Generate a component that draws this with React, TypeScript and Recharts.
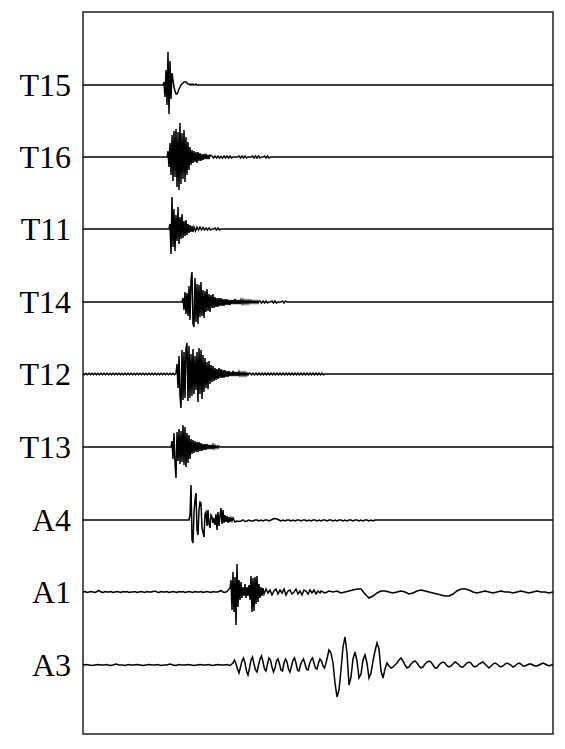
import React from 'react';
import { LineChart, Line, XAxis, YAxis, ReferenceArea } from 'recharts';

// Station labels, top to bottom
const STATIONS = ['T15', 'T16', 'T11', 'T14', 'T12', 'T13', 'A4', 'A1', 'A3'];
// Vertical offset (trace baseline) of each station, in amplitude counts
const OFFSETS = [649, 577, 505, 432, 360, 287, 214, 142, 69];
const T_MAX = 470;

type Seg = { start: number; step: number; values: number[] };

const T15: Seg[] = [
  { start: 81, step: 1, values: [3, -12, 15, -20, 33, -29, 24, -14, 12, 5, -2, -6, -9, -9, -7, -4, -2, 0, 1, 2, 3, 3, 3, 2, 1, 1, 0, 1, 0, 1, 0, 0, 1, 0] },
];

const T16: Seg[] = [
  { start: 85, step: 1, values: [6, -10, 14, -18, 22, -24, 26, -20, 28, -30, 25, -33, 34, -27, 24, -22, 27, -25, 20, -18, 15, -13, 10] },
  { start: 108, step: 1, values: [-8, 7, -6, 6, -5, 5, -6, 5, -4, 4, -4, 3, -3, 3, -2, 3, -2, 2, -2, 2] },
  { start: 129, step: 1.5, values: [1, -1, 1, -1, 1, -1, 0.5, -1, 1, -1, 1, -1, 1, -1, 0, 0, 0, 0, 1, -1, 1, -1, 1, -1, 0, 0, 0, 1, -1, 1, -1, 1, -1, 0, 0, 1, -1, 1, -1, 0] },
];

const T11: Seg[] = [
  { start: 87, step: 1, values: [5, -25, 32, -18, 20, -22, 14, -12, 22, -15, 12, -10, 15, -9, 8, -7, 9, -6, 5, -4, 4, -3, 3, -3] },
  { start: 111, step: 1.5, values: [2, -2, 2, -1, 2, -1, 1.5, -1, 1, -1, 1, -1, 0, 0, 1, -1, 1, -1, 0] },
];

const T14: Seg[] = [
  { start: 100, step: 1, values: [4, -8, 10, -12, 9, -14, 16, -18, 22, 30, -22, -25, 24, -20, 18, -22, 17, -15, 20, -14, 12, -16, 11, -10, 13, -9, 8, -10, 7, -6, 8, -6, 5] },
  { start: 133, step: 1, values: [-5, 4, -5, 4, -4, 4, -4, 3, -4, 3, -3, 3, -3, 2, -3, 2, -2, 2, -2, 3, -2, 2, -2, 2, -2, 2, -1.5, 2, -1.5, 1.5, -1.5, 1.5, -1.5, 1.5, -1, 1.5, -1, 1, -1, 1, -1, 1, -1, 1] },
  { start: 177, step: 1.5, values: [1, -1, 1, -1, 1, -1, 0, 0, 1, -1, 1, -1, 0, 0, 0, 1, -1, 1, 0, 0, 0] },
];

const T12: Seg[] = [
  { start: 0, step: 1.5, values: [0.7, -0.7, 0.7, -0.7, 0.7, -0.7, 0.7, -0.7, 0.7, -0.7, 0.7, -0.7, 0.7, -0.7, 0.7, -0.7, 0.7, -0.7, 0.7, -0.7, 0.7, -0.7, 0.7, -0.7, 0.7, -0.7, 0.7, -0.7, 0.7, -0.7, 0.7, -0.7, 0.7, -0.7, 0.7, -0.7, 0.7, -0.7, 0.7, -0.7, 0.7, -0.7, 0.7, -0.7, 0.7, -0.7, 0.7, -0.7, 0.7, -0.7, 0.7, -0.7, 0.7, -0.7, 0.7, -0.7, 0.7, -0.7, 0.7, -0.7, 0.7, -0.7, 0.7] },
  { start: 94, step: 1, values: [10, -14, 18, -22, -34, 24, -26, 22, -24, 26, 31, -27, 28, -24, 20, -22, 25, -20, 18, -16, 22, -28, 26, -20, 24, -25, 19, -18, 16, -14, 12, -15, 13, -10, 9, -8, 8, -7] },
  { start: 132, step: 1, values: [6, -6, 5, -5, 6, -4, 5, -4, 4, -4, 4, -3, 3, -3, 3, -2, 2, -2, 3, -2, 2, -2, 2, -2, 2, -1.5, 1.5, -1.5, 1.5, -1.5, 1.5, -1.5, 1, -1, 1] },
  { start: 167, step: 1.5, values: [0.8, -0.8, 0.8, -0.8, 0.8, -0.8, 0.8, -0.8, 0.8, -0.8, 0.8, -0.8, 0.8, -0.8, 0.8, -0.8, 0.8, -0.8, 0.8, -0.8, 0.8, -0.8, 0.8, -0.8, 0.8, -0.8, 0.8, -0.8, 0.8, -0.8, 0.8, -0.8, 0.8, -0.8, 0.8, -0.8, 0.8, -0.8, 0.8, -0.8, 0.8, -0.8, 0.8, -0.8, 0.8, -0.8, 0.8, -0.8, 0.8, -0.8, 0] },
];

const T13: Seg[] = [
  { start: 89, step: 1, values: [6, -12, 14, -16, -31, 15, -14, 18, -17, 16, -15, 22, -18, 20, -20, 14, -16, 12, -12] },
  { start: 108, step: 1, values: [8, -7, 7, -6, 6, -5, 5, -5, 5, -4, 4, -4, 3, -3, 3, -3, 3, -2, 2, -2, 2, -2, 2, -1.5, 1.5, -1, 1, -1, 1, 0] },
];

const A4: Seg[] = [
  { start: 107, step: 1, values: [5, 35, -20, -23, 8, 20, 27, -10, -15, 10, 18, 17, -8, -12, -17, 6, 8, -6, 10, -4, -8, 5, 3, -3, 2, -5, 6, -10, 8, -6, 4, 12, -4, 10, -3, 5, -2, 4, -3, 3, -2, 2, -1, 2] },
  { start: 152, step: 2, values: [-2, -1, -1.5, -1, 0, -1.5, -1, 0, -1, -1, 0, 0, -1, 0, -1, 0, 0, -1, 0, 1, 1.5, 1, 0, -1, 0, -1, 0, 0, -1, 0, -1, 0, 0, -1, 0, 0, -1, 0, -1, 0, 0, -1, 0, -1, 0, 0, -1, 0, 0, -1, 0, -1, 0, 0, -1, 0, -1, 0, 0, -1, 0, 0, -1, 0, -1, 0, 0, -1, 0, -1, 0, 0] },
];

const A1: Seg[] = [
  { start: 0, step: 2, values: [0, 0.5, -0.5, 0, 0.5, 0, -0.5, 0.5, 1.5, 0, -0.5, 0.5, 0, 0, 0.5, -0.5, 0, 0.5, 0, -0.5, 0.5, 0, 0.5, -0.5, 0, 0, 0.5, -0.5, 0, 0.5, 0, -0.5, 0.5, 0, 0, 0.5, 1, 0, -0.5, 0.5, 0, 0, 0.5, -0.5, 0, 0.5, 0, -0.5, 0.5, 0, 0.5, -0.5, 0, 0.5, 0, -0.5, 0.5, 0, 0, 0.5, -0.5, 0, 0.5, 0, -0.5, 0.5, 0, 0, 0.5, 1.5, 0, -0.5, 0.5] },
  { start: 147, step: 1, values: [4, 12, -18, 20, -20, 15, -33, 28, -15, 12, -8, 10, -6, 5, -4, 8, -6, 5, -4, 7, -8, 16, -20, 14, -19, 15, -12, 16, -10, 8, -6, 5, -4, 4] },
  { start: 181, step: 2, values: [-2, 3, -1, 2, -3, 1, 3, -2, 2, -1, 3, -3, 1, 2, -2, 0, 3, -2, 1, -3, 2, 1, -2, 2, -1, 2, -2, 1, -1] },
  { start: 238, step: 4, values: [1, -1, 1, 0, 1, -1, 0, 1, 2, 3, 3, -2, -6, -4, -1, 1, 1, 0, -1, 0, 1, 0, -2, -1, 1, 2, 1, 0, -1, -2, -3, -4, -4, -2, 1, 3, 3, 2, 0, -1, 0, 1, 0, -1, 0, 1, 0, 0, -1, 0, 1, 0, -1, 0, 1, 0, 0, -1, 0] },
];

const A3: Seg[] = [
  { start: 0, step: 3, values: [0, 0.5, 0, -0.5, 0, 0.5, 0, 0, 0.5, -0.5, 0, 1, 0, 0, -0.5, 0.5, 0, 0, 0.5, 0, -0.5, 0, 0.5, 0, 0, 0.5, -0.5, 0, 0, 1, 0, -0.5, 0.5, 0, 0, 0.5, 0, -0.5, 0, 0.5, 0, 0, 0.5, -0.5, 0, 0.5, 0, 0, 0.5, -0.5] },
  { start: 150, step: 1.5, values: [2, 5, 1, -4, -8, -2, 4, 7, 2, -6, -10, -3, 5, 8, 1, -5, -7, 0, 6, 9, 3, -4, -6, 1, 7, 5, -2, -7, -3, 4, 6, 1, -5, -6, 2, 6, 3, -4, -7, -1, 5, 7, 2, -5, -6, 0, 4, 6, 1, -4, -5, 1, 5, 7, 2, -3, -4, 2, 6, 4, -1, -3, 2] },
  { start: 244, step: 2, values: [6, 15, 12, 2, -18, -32, -25, -5, 18, 28, 12, -20, -12, 6, 13, 4, -13, -9, 5, 10, 2, -13, -8, 4, 14, 22, 16, -6, -13, -4, 2] },
  { start: 306, step: 2, values: [-1, -3, -2, 0, 2, 5, 7, 4, 0, -3, -2, 1, 3, 4, 2, -1, -3, -2, 1, 3, 4, 3, 0, -3, -3, 0, 2, 3, 2, -1, -2, -1, 1, 3, 2, 0, -2, -2, 0, 2, 3, 2, -1, -2, -1, 1, 2, 3, 1, -1, -3, -1, 1, 2, 1, -1, -2, -1, 1, 2, 1, 0, -2, -1, 1, 2, 1, -1, -1, 0, 1, 1, 0, -1, -1, 0, 1, 2, 1, 0, -1, 0] },
];

const TRACES: Seg[][] = [T15, T16, T11, T14, T12, T13, A4, A1, A3];

function buildTrace(segs: Seg[], offset: number) {
  const pts: { t: number; v: number }[] = [];
  segs.forEach((s) => {
    s.values.forEach((val, i) => pts.push({ t: s.start + i * s.step, v: offset + val }));
  });
  pts.sort((a, b) => a.t - b.t);
  if (pts[0].t > 0) {
    pts.unshift({ t: pts[0].t - 1, v: offset });
    pts.unshift({ t: 0, v: offset });
  }
  const last = pts[pts.length - 1].t;
  if (last < T_MAX) {
    pts.push({ t: Math.min(last + 1, T_MAX), v: offset });
    pts.push({ t: T_MAX, v: offset });
  }
  return pts;
}

export default function App() {
  const series = TRACES.map((segs, i) => buildTrace(segs, OFFSETS[i]));
  return (
    <div style={{ position: 'absolute', left: 0, top: 0, background: '#fff' }}>
      <LineChart width={565} height={749} margin={{ top: 12, right: 12, bottom: 15, left: 0 }}>
        <XAxis type="number" dataKey="t" domain={[0, T_MAX]} hide allowDataOverflow />
        <YAxis
          type="number"
          domain={[0, 722]}
          ticks={OFFSETS}
          interval={0}
          width={83}
          axisLine={false}
          tickLine={false}
          tickSize={0}
          tickMargin={12}
          allowDataOverflow
          tickFormatter={(v: number) => STATIONS[OFFSETS.indexOf(v)]}
          tick={{ fontFamily: '"Liberation Serif", "Times New Roman", serif', fontSize: 32, fill: '#000' }}
        />
        <ReferenceArea x1={0} x2={T_MAX} y1={0} y2={722} fill="none" stroke="#222" strokeWidth={1.5} />
        {series.map((d, i) => (
          <Line
            key={STATIONS[i]}
            data={d}
            dataKey="v"
            type="linear"
            stroke="#000"
            strokeWidth={1.5}
            dot={false}
            isAnimationActive={false}
          />
        ))}
      </LineChart>
    </div>
  );
}
